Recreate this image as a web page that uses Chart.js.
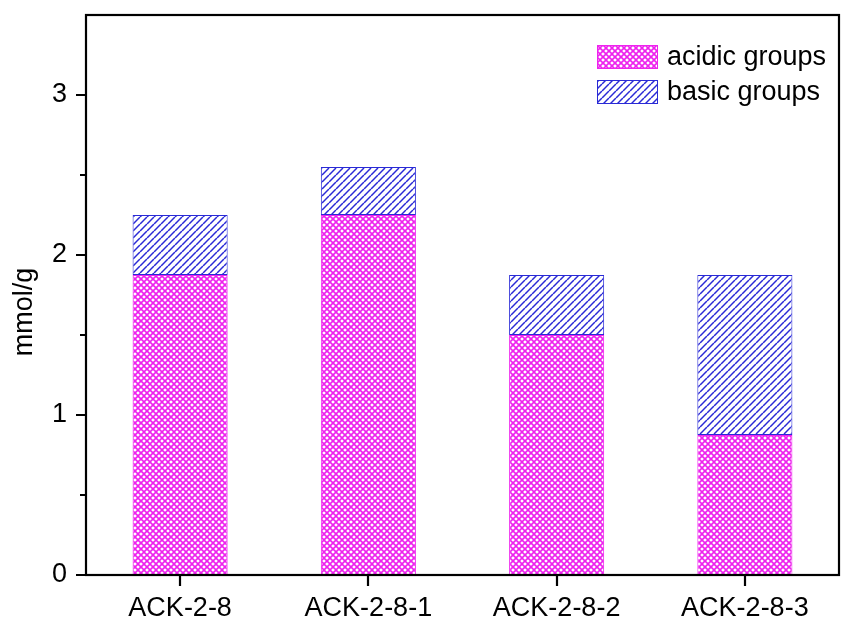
<!DOCTYPE html>
<html>
<head>
<meta charset="utf-8">
<script src="https://cdn.jsdelivr.net/npm/chart.js@4.4.1/dist/chart.umd.min.js"></script>
<style>
  html, body { margin: 0; padding: 0; background: #ffffff; }
  #wrap { width: 843px; height: 624px; }
</style>
</head>
<body>
<div id="wrap"><canvas id="c" width="843" height="624"></canvas></div>
<script>
// Samples and their surface group contents (mmol/g)
const categories = ['ACK-2-8', 'ACK-2-8-1', 'ACK-2-8-2', 'ACK-2-8-3'];
const acidicGroups = [1.875, 2.25, 1.5, 0.875];
const basicGroups = [0.375, 0.30, 0.375, 1.0];
const seriesLabels = ['acidic groups', 'basic groups'];
const yTitle = 'mmol/g';
const yMajorTicks = [0, 1, 2, 3];
const yMinorTicks = [0.5, 1.5, 2.5];

const FONT = "'Liberation Sans', Arial, Helvetica, sans-serif";
const MAGENTA = '#ee22ee';
const BLUE = '#2a2ad6';

// Tiled fill patterns: cross-hatch and single diagonal hatch
function hatchPattern(color, period, cross, lw) {
  const t = document.createElement('canvas');
  t.width = period; t.height = period;
  const g = t.getContext('2d');
  g.fillStyle = '#ffffff';
  g.fillRect(0, 0, period, period);
  g.strokeStyle = color;
  g.lineWidth = lw;
  for (let o = -period; o <= period; o += period) {
    g.beginPath();
    g.moveTo(o, period); g.lineTo(o + period, 0);
    g.stroke();
    if (cross) {
      g.beginPath();
      g.moveTo(o, 0); g.lineTo(o + period, period);
      g.stroke();
    }
  }
  const ctx = document.getElementById('c').getContext('2d');
  return ctx.createPattern(t, 'repeat');
}

const acidicFill = hatchPattern(MAGENTA, 6, true, 1.6);
const basicFill = hatchPattern(BLUE, 7, false, 1.5);

// Frame, tick marks, axis title and in-plot legend
const framePlugin = {
  id: 'frame',
  afterDraw(chart) {
    const { ctx, chartArea: a, scales } = chart;
    const ys = scales.y, xs = scales.x;
    ctx.save();
    ctx.strokeStyle = '#000';
    ctx.lineWidth = 2.2;
    ctx.strokeRect(a.left, a.top, a.right - a.left, a.bottom - a.top);
    ctx.beginPath();
    yMajorTicks.forEach(v => {
      const y = Math.round(ys.getPixelForValue(v));
      ctx.moveTo(a.left - 10, y); ctx.lineTo(a.left, y);
    });
    yMinorTicks.forEach(v => {
      const y = Math.round(ys.getPixelForValue(v));
      ctx.moveTo(a.left - 6, y); ctx.lineTo(a.left, y);
    });
    categories.forEach((c, i) => {
      const x = Math.round(xs.getPixelForValue(i));
      ctx.moveTo(x, a.bottom); ctx.lineTo(x, a.bottom + 11);
    });
    ctx.stroke();

    // y-axis title, rotated
    ctx.save();
    ctx.translate(25, 312);
    ctx.rotate(-Math.PI / 2);
    ctx.fillStyle = '#000';
    ctx.font = '27px ' + FONT;
    ctx.textAlign = 'center';
    ctx.textBaseline = 'middle';
    ctx.fillText(yTitle, 0, 0);
    ctx.restore();

    // legend
    const ds = chart.data.datasets;
    const bx = 597, bw = 61, bh = 24;
    const rows = [45, 80];
    ds.forEach((d, i) => {
      const y = rows[i];
      ctx.fillStyle = d.backgroundColor;
      ctx.fillRect(bx, y, bw, bh);
      ctx.lineWidth = 1;
      ctx.strokeStyle = d.borderColor;
      ctx.strokeRect(bx + 0.5, y + 0.5, bw - 1, bh - 1);
      ctx.fillStyle = '#000';
      ctx.font = '27px ' + FONT;
      ctx.textAlign = 'left';
      ctx.textBaseline = 'middle';
      ctx.fillText(d.label, 667, y + bh / 2 + 1);
    });
    ctx.restore();
  }
};

new Chart(document.getElementById('c'), {
  type: 'bar',
  data: {
    labels: categories,
    datasets: [
      {
        label: seriesLabels[0],
        data: acidicGroups,
        backgroundColor: acidicFill,
        borderColor: MAGENTA,
        borderWidth: 1,
        borderSkipped: false
      },
      {
        label: seriesLabels[1],
        data: basicGroups,
        backgroundColor: basicFill,
        borderColor: BLUE,
        borderWidth: 1,
        borderSkipped: false
      }
    ]
  },
  options: {
    responsive: false,
    devicePixelRatio: 1,
    animation: false,
    layout: { padding: { top: 15, right: 4, left: 0, bottom: 0 } },
    datasets: { bar: { categoryPercentage: 1.0, barPercentage: 0.505 } },
    plugins: {
      legend: { display: false },
      tooltip: { enabled: false }
    },
    scales: {
      x: {
        stacked: true,
        grid: { display: false, drawTicks: false },
        border: { display: false },
        ticks: {
          color: '#000',
          font: { family: FONT, size: 27 },
          padding: 17,
          maxRotation: 0
        },
        afterFit(s) { s.height = 49; s.paddingLeft = 0; s.paddingRight = 0; }
      },
      y: {
        stacked: true,
        min: 0,
        max: 3.5,
        grid: { display: false, drawTicks: false },
        border: { display: false },
        ticks: {
          stepSize: 1,
          color: '#000',
          font: { family: FONT, size: 27 },
          padding: 19,
          callback: v => (yMajorTicks.includes(v) ? String(v) : '')
        },
        title: { display: false },
        afterFit(s) { s.width = 86; s.paddingTop = 0; s.paddingBottom = 0; }
      }
    }
  },
  plugins: [framePlugin]
});
</script>
</body>
</html>
